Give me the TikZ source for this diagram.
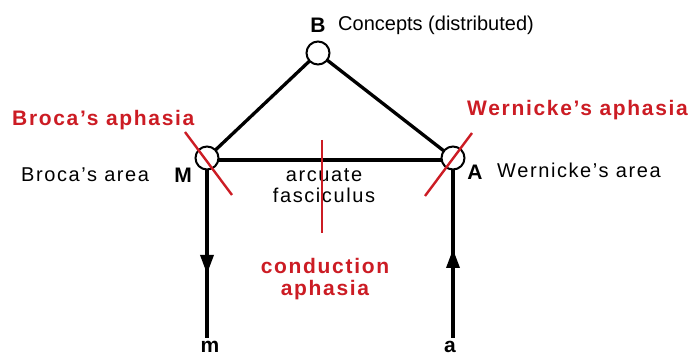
\documentclass[tikz,border=0pt]{standalone}
\usepackage{fontspec}
\setmainfont{Liberation Sans}
\newfontfamily\spaced[LetterSpace=8]{Liberation Sans}
\usetikzlibrary{arrows.meta}
\definecolor{aphred}{RGB}{204,28,36}
\begin{document}
\begin{tikzpicture}[x=1pt,y=-1pt,
  circ/.style={circle,draw=black,line width=2pt,fill=white,minimum size=23pt,inner sep=0pt},
  conn/.style={line width=3.3pt,black},
  redline/.style={line width=2.4pt,aphred},
  lbl/.style={font=\spaced\fontsize{20}{22}\selectfont,inner sep=0pt},
  plain/.style={font=\fontsize{20}{22}\selectfont,inner sep=0pt},
  bl/.style={font=\fontsize{21}{22}\selectfont\bfseries,inner sep=0pt},
  rl/.style={font=\spaced\fontsize{21}{24}\selectfont\bfseries,text=aphred,inner sep=0pt,align=center},
  tip/.style={-{Triangle[length=19pt,width=13pt]}}]
\fill[white] (0,0) rectangle (689,358);
\useasboundingbox (0,0) rectangle (689,358);
% connectors first (circles drawn on top)
\coordinate (Bc) at (318,53);
\coordinate (Mc) at (207,158);
\coordinate (Ac) at (453,158);
\coordinate (mend) at (207,338);
\coordinate (aend) at (453,338);
\coordinate (mtip) at (207,274);
\coordinate (atip) at (453,249);
\draw[conn] (Bc) -- (Mc);
\draw[conn] (Bc) -- (Ac);
\draw[conn] (207,160) -- (453,160);
\draw[conn] (Mc) -- (mend);
\draw[conn] (Ac) -- (aend);
\draw[conn,tip] (Mc) -- (mtip);
\draw[conn,tip] (aend) -- (atip);
\node[circ] (B) at (Bc) {};
\node[circ] (M) at (Mc) {};
\node[circ] (A) at (Ac) {};
% labels
\node[bl] (Blab) at (318,25) {B};
\node[plain,anchor=west] (concepts) at (338,25) {Concepts (distributed)};
\node[bl] (Mlab) at (183,175) {M};
\node[lbl,anchor=west] (broca) at (21,175) {Broca’s area};
\node[bl] (Alab) at (475,172) {A};
\node[lbl,anchor=west] (wern) at (497,170) {Wernicke’s area};
\node[lbl,align=center] (arc) at (324,186) {arcuate\\[-1pt]fasciculus};
\node[bl] (mlab) at (210,347) {m};
\node[bl] (alab) at (450,347) {a};
% red annotations
\node[rl,anchor=west] (brocaaph) at (12,120) {Broca’s aphasia};
\node[rl,anchor=west] (wernaph) at (467,110) {Wernicke’s aphasia};
\node[rl] (condaph) at (325,279) {conduction\\[-2pt]aphasia};
\draw[redline] (185,132) -- (232,195);
\draw[redline] (472,133) -- (425,196);
\draw[redline] (322,140) -- (322,233);
\end{tikzpicture}
\end{document}
